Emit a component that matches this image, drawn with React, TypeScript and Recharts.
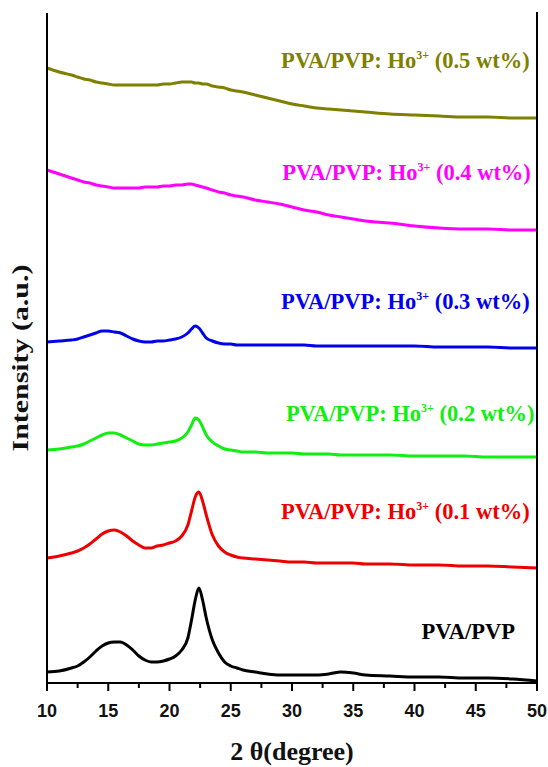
import { LineChart, Line, XAxis, YAxis, ReferenceDot } from 'recharts';

// 2θ grid (degrees) and intensities (a.u., stacked offsets as plotted)
const twoTheta = [
  10, 11, 12, 12.5, 13, 13.5, 14, 14.5, 15, 15.5, 16, 16.5, 17, 17.5, 18, 18.5, 19, 19.5, 20, 20.5,
  21, 21.5, 21.8, 22.1, 22.4, 22.7, 23, 23.5, 24, 24.5, 25, 25.5, 26, 27, 28, 29, 30, 31, 32, 33,
  34, 35, 36, 38, 40, 42, 44, 46, 48, 50,
];
const pvaPvp = [
  11, 12, 15, 17, 21, 26, 32, 37, 40, 41, 41, 38, 33, 27, 23, 21, 21, 22, 24, 27,
  33, 45, 63, 83, 95, 83, 65, 43, 30, 21, 17, 15, 13, 11, 9, 8, 8, 8, 8, 9,
  11, 10, 8, 7, 6, 6, 5, 5, 4, 2,
];
const ho01 = [
  125, 127, 130, 132, 135, 139, 144, 149, 152, 153, 151, 147, 142, 138, 135, 135, 137, 138, 140, 142,
  147, 158, 172, 186, 191, 182, 168, 148, 137, 131, 128, 126, 125, 124, 123, 122, 121, 121, 120, 120,
  120, 120, 119, 119, 118, 118, 117, 117, 116, 115,
];
const ho02 = [
  233, 234, 236, 237, 239, 242, 245, 248, 250, 250, 248, 245, 242, 239, 238, 238, 239, 240, 241, 242,
  245, 251, 258, 265, 263, 256, 248, 241, 237, 234, 233, 232, 231, 231, 230, 230, 230, 229, 229, 229,
  228, 228, 228, 228, 227, 227, 227, 226, 226, 226,
];
const ho03 = [
  341, 342, 343, 344, 346, 348, 350, 352, 352, 351, 350, 347, 344, 342, 341, 341, 342, 342, 343, 344,
  346, 350, 354, 357, 355, 350, 345, 342, 340, 339, 339, 338, 338, 338, 338, 338, 338, 338, 337, 337,
  337, 337, 337, 337, 337, 336, 336, 336, 335, 335,
];
const ho04 = [
  513, 509, 505, 503, 501, 500, 498, 497, 496, 495, 495, 495, 495, 495, 496, 496, 496, 497, 497, 498,
  498, 499, 499, 498, 497, 496, 495, 493, 491, 490, 488, 487, 486, 483, 481, 479, 476, 473, 471, 468,
  466, 464, 462, 460, 457, 455, 454, 454, 453, 453,
];
const ho05 = [
  615, 611, 608, 606, 604, 603, 601, 600, 599, 598, 598, 598, 598, 598, 598, 598, 598, 599, 599, 600,
  601, 601, 601, 600, 600, 599, 599, 597, 596, 595, 593, 592, 591, 588, 585, 582, 579, 577, 575, 574,
  573, 572, 571, 569, 568, 567, 566, 566, 565, 565,
];
const xTicks = [10, 12.5, 15, 17.5, 20, 22.5, 25, 27.5, 30, 32.5, 35, 37.5, 40, 42.5, 45, 47.5, 50];

const series = [
  { key: 'ho05', values: ho05, color: '#7f7f00', wt: '0.5 wt%', lx: 49.4, ly: 615 },
  { key: 'ho04', values: ho04, color: '#ff00ff', wt: '0.4 wt%', lx: 49.5, ly: 503 },
  { key: 'ho03', values: ho03, color: '#0000ee', wt: '0.3 wt%', lx: 49.4, ly: 374 },
  { key: 'ho02', values: ho02, color: '#11ee11', wt: '0.2 wt%', lx: 49.8, ly: 262 },
  { key: 'ho01', values: ho01, color: '#ee0000', wt: '0.1 wt%', lx: 49.4, ly: 164 },
  { key: 'pvaPvp', values: pvaPvp, color: '#000000', wt: null, lx: 48.2, ly: 44 },
];

const data = twoTheta.map((t, i) => {
  const row: Record<string, number> = { t };
  series.forEach((s) => { row[s.key] = s.values[i]; });
  return row;
});

const CHART_W = 548;
const CHART_H = 767;
const TOP = 13;
const RIGHT = 11;
const X_AXIS_H = 84;
const PLOT_H = CHART_H - TOP - X_AXIS_H;

const serif = "'Liberation Serif', 'Times New Roman', serif";
const frame = { stroke: '#000', strokeWidth: 2 };

function XTick({ x, y, payload }: any) {
  const major = payload.value % 5 === 0;
  return (
    <g>
      <line x1={x} x2={x} y1={y} y2={y + (major ? 8 : 5)} stroke="#000" strokeWidth={2} />
      {major && (
        <text x={x} y={y + 34} textAnchor="middle" fontFamily="'Liberation Sans', Arial, sans-serif"
          fontWeight="bold" fontSize={18} fill="#111">
          {payload.value}
        </text>
      )}
    </g>
  );
}

function seriesLabel(color: string, wt: string | null) {
  return (p: any) => (
    <text x={p.cx} y={p.cy} textAnchor="end" fontFamily={serif} fontWeight="bold" fontSize={22.5} fill={color}>
      <tspan>PVA/PVP</tspan>
      {wt && <tspan>: Ho</tspan>}
      {wt && <tspan dy={-9} fontSize={12}>3+</tspan>}
      {wt && <tspan dy={9}>{` (${wt})`}</tspan>}
    </text>
  );
}

export default function App() {
  return (
    <div style={{ position: 'relative', width: CHART_W, height: CHART_H }}>
      <style>{'body{margin:0}'}</style>
      <LineChart width={CHART_W} height={CHART_H} data={data} margin={{ top: TOP, right: RIGHT, left: 0, bottom: 0 }}>
        <XAxis
          dataKey="t"
          type="number"
          domain={[10, 50]}
          ticks={xTicks}
          interval={0}
          tickSize={0}
          tickMargin={0}
          tickLine={false}
          tick={<XTick />}
          height={X_AXIS_H}
          axisLine={frame}
          label={{
            content: ({ viewBox }: any) => (
              <text x={viewBox.x + viewBox.width / 2} y={viewBox.y + 77} textAnchor="middle"
                fontFamily={serif} fontWeight="bold" fontSize={26} fill="#111">
                2 θ(degree)
              </text>
            ),
          }}
        />
        <XAxis xAxisId="top" orientation="top" dataKey="t" type="number" domain={[10, 50]}
          height={0} tick={false} tickLine={false} axisLine={frame} />
        <YAxis
          type="number"
          domain={[0, 670]}
          allowDataOverflow
          width={47}
          tick={false}
          tickLine={false}
          axisLine={frame}
          label={{
            content: ({ viewBox }: any) => (
              <text transform={`translate(${viewBox.x + 28},${viewBox.y + viewBox.height / 2 + 10}) rotate(-90) scale(1.3,1)`}
                textAnchor="middle" fontFamily={serif} fontWeight="bold" fontSize={23} fill="#111">
                Intensity (a.u.)
              </text>
            ),
          }}
        />
        {series.map((s) => (
          <Line key={s.key} dataKey={s.key} type="monotone" stroke={s.color} strokeWidth={3}
            dot={false} isAnimationActive={false} />
        ))}
        {series.map((s) => (
          <ReferenceDot key={`lbl-${s.key}`} x={s.lx} y={s.ly} r={0} ifOverflow="visible"
            shape={seriesLabel(s.color, s.wt)} />
        ))}
      </LineChart>
      {/* right edge of the frame box */}
      <div
        style={{
          position: 'absolute',
          left: CHART_W - RIGHT - 1,
          top: TOP - 1,
          width: 2,
          height: PLOT_H + 2,
          background: '#000',
          pointerEvents: 'none',
        }}
      />
    </div>
  );
}
